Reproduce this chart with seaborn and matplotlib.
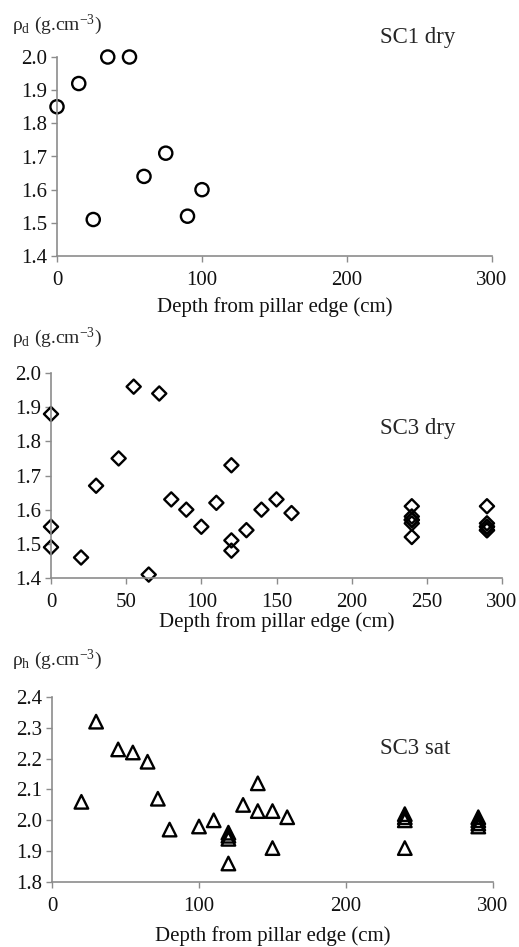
import matplotlib
matplotlib.use('Agg')
import matplotlib.pyplot as plt
import pandas as pd
import seaborn as sns

# SC1 dry - dry density vs depth
sc1_depth = [0, 15, 25, 35, 50, 60, 75, 90, 100]
sc1_rho = [1.85, 1.92, 1.51, 2.00, 2.00, 1.64, 1.71, 1.52, 1.60]

# SC3 dry
sc3_dry_depth = [0, 0, 0, 20, 30, 45, 55, 65, 72, 80, 90, 100, 110, 120, 120, 120,
                 130, 140, 150, 160, 240, 240, 240, 240, 240, 240,
                 290, 290, 290, 290, 290, 290]
sc3_dry_rho = [1.88, 1.55, 1.49, 1.46, 1.67, 1.75, 1.96, 1.41, 1.94, 1.63, 1.60, 1.55, 1.62, 1.73, 1.51, 1.48,
               1.54, 1.60, 1.63, 1.59, 1.61, 1.58, 1.57, 1.57, 1.56, 1.52,
               1.61, 1.56, 1.55, 1.55, 1.54, 1.54]

# SC3 saturated - bulk density
sc3_sat_depth = [20, 30, 45, 55, 65, 72, 80, 100, 110, 120, 120, 120, 120, 130, 140, 140,
                 150, 150, 160, 240, 240, 240, 240, 290, 290, 290, 290]
sc3_sat_rho = [2.06, 2.32, 2.23, 2.22, 2.19, 2.07, 1.97, 1.98, 2.00, 1.96, 1.95, 1.94, 1.86, 2.05, 2.12, 2.03,
               2.03, 1.91, 2.01, 2.02, 2.01, 2.00, 1.91, 2.01, 2.00, 1.99, 1.98]

sns.set_theme(style='white')
plt.rcParams['font.family'] = ['Liberation Serif', 'DejaVu Serif']
plt.rcParams['mathtext.fontset'] = 'custom'
plt.rcParams['mathtext.rm'] = 'Liberation Serif'
plt.rcParams['mathtext.it'] = 'Liberation Serif:italic'

W, H = 519, 947
fig = plt.figure(figsize=(W / 100, H / 100), dpi=100)
AXIS_GREY = '#8c8c8c'


def add_panel(left, right, top, bottom):
    return fig.add_axes([left / W, 1 - bottom / H, (right - left) / W, (bottom - top) / H])


def style_axes(ax, xticks, ylim, yticks, label_gap):
    ax.set_xlim(0, 300)
    ax.set_ylim(*ylim)
    ax.set_xticks(xticks)
    ax.set_yticks(yticks)
    ax.set_yticklabels([f'{v:.1f}' for v in yticks])
    for side in ('top', 'right'):
        ax.spines[side].set_visible(False)
    for side in ('left', 'bottom'):
        ax.spines[side].set_color(AXIS_GREY)
        ax.spines[side].set_linewidth(1.2)
    ax.tick_params(axis='both', direction='out', length=4, width=1, color=AXIS_GREY,
                   labelsize=15, labelcolor='#111111', left=True, bottom=True)
    ax.tick_params(axis='x', pad=7)
    ax.tick_params(axis='y', pad=3)
    ax.set_xlabel('Depth from pillar edge (cm)', fontsize=15, color='#111111')
    h = ax.get_position().height * H
    ax.xaxis.set_label_coords(0.5, -label_gap / h)
    ax.set_ylabel('')


marker_kw = dict(facecolor='none', edgecolor='black', linewidth=1.7, clip_on=False, legend=False)

# panel 1
ax1 = add_panel(57, 492, 57, 256)
sns.scatterplot(data=pd.DataFrame({'depth': sc1_depth, 'rho': sc1_rho}), x='depth', y='rho',
                marker='o', s=90, ax=ax1, **marker_kw)
style_axes(ax1, [0, 100, 200, 300], (1.4, 2.0), [1.4, 1.5, 1.6, 1.7, 1.8, 1.9, 2.0], 41)
fig.text(12 / W, 1 - 25 / H, r'ρ$_\mathrm{d}$ (g.cm$^{-3}$)', fontsize=14, ha='left', va='center')
fig.text(380 / W, 1 - 38 / H, 'SC1 dry', fontsize=16.5, ha='left', va='center')

# panel 2
ax2 = add_panel(51, 502, 373, 578)
sns.scatterplot(data=pd.DataFrame({'depth': sc3_dry_depth, 'rho': sc3_dry_rho}), x='depth', y='rho',
                marker='D', s=52, ax=ax2, **marker_kw)
style_axes(ax2, [0, 50, 100, 150, 200, 250, 300], (1.4, 2.0),
           [1.4, 1.5, 1.6, 1.7, 1.8, 1.9, 2.0], 34)
fig.text(12 / W, 1 - 338 / H, r'ρ$_\mathrm{d}$ (g.cm$^{-3}$)', fontsize=14, ha='left', va='center')
fig.text(380 / W, 1 - 428 / H, 'SC3 dry', fontsize=16.5, ha='left', va='center')

# panel 3
ax3 = add_panel(52, 493, 697, 882)
sns.scatterplot(data=pd.DataFrame({'depth': sc3_sat_depth, 'rho': sc3_sat_rho}), x='depth', y='rho',
                marker='^', s=95, ax=ax3, **marker_kw)
style_axes(ax3, [0, 100, 200, 300], (1.8, 2.4), [1.8, 1.9, 2.0, 2.1, 2.2, 2.3, 2.4], 44)
fig.text(12 / W, 1 - 660 / H, r'ρ$_\mathrm{h}$ (g.cm$^{-3}$)', fontsize=14, ha='left', va='center')
fig.text(380 / W, 1 - 748 / H, 'SC3 sat', fontsize=16.5, ha='left', va='center')

fig.savefig('out.png', dpi=100)
